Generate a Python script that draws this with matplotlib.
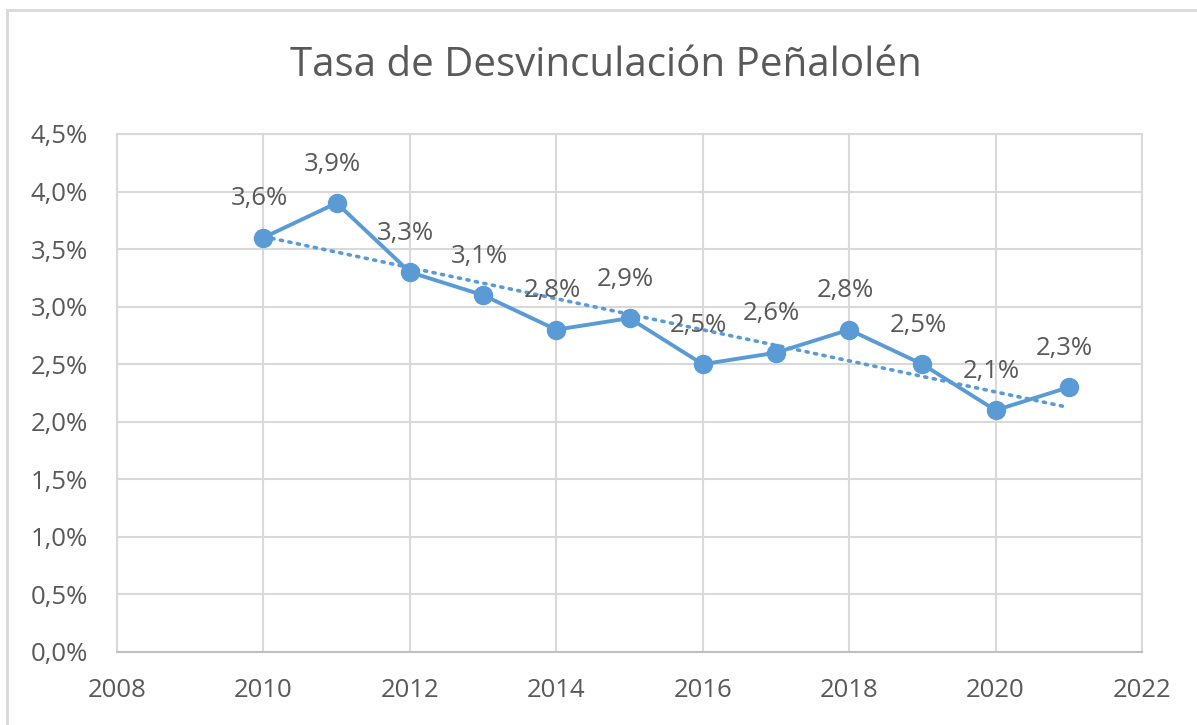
import numpy as np
import matplotlib.pyplot as plt
from matplotlib.patches import Rectangle
from matplotlib.ticker import FuncFormatter, MultipleLocator

years = [2010, 2011, 2012, 2013, 2014, 2015, 2016, 2017, 2018, 2019, 2020, 2021]
tasa = [3.6, 3.9, 3.3, 3.1, 2.8, 2.9, 2.5, 2.6, 2.8, 2.5, 2.1, 2.3]
title = 'Tasa de Desvinculación Peñalolén'

plt.rcParams['font.family'] = ['Open Sans', 'DejaVu Sans']
blue = '#5B9BD5'
grid_c = '#D9D9D9'
text_c = '#595959'

fig = plt.figure(figsize=(11.97, 7.25), dpi=100)
# outer chart frame (runs off the right and bottom edges)
fig.patches.append(Rectangle((7 / 1197, -0.05), 1.1, 1.05 - 10 / 725,
                             transform=fig.transFigure, fill=False,
                             edgecolor=grid_c, lw=2))
ax = fig.add_axes([117 / 1197, 1 - 652 / 725, 1025 / 1197, 518 / 725])

ax.plot(years, tasa, color=blue, lw=2.8, marker='o', ms=13, zorder=3)

# linear trend line
m, b = np.polyfit(years, tasa, 1)
xt = np.array([years[0], years[-1]])
ax.plot(xt, m * xt + b, color=blue, lw=2.6, ls=(0, (0.6, 1.8)),
        dash_capstyle='round', zorder=2)

for x, y in zip(years, tasa):
    ax.annotate(f'{y:.1f}%'.replace('.', ','), (x, y), xytext=(-3, 19),
                textcoords='offset points', ha='center', va='bottom',
                fontsize=18.5, color=text_c, zorder=4)

ax.set_xlim(2008, 2022)
ax.set_ylim(0, 4.5)
ax.xaxis.set_major_locator(MultipleLocator(2))
ax.yaxis.set_major_locator(MultipleLocator(0.5))
ax.yaxis.set_major_formatter(FuncFormatter(lambda v, p: f'{v:.1f}%'.replace('.', ',')))
ax.grid(True, color=grid_c, lw=1.5)
ax.set_axisbelow(True)
for s in ['top', 'right', 'left']:
    ax.spines[s].set_color(grid_c)
    ax.spines[s].set_linewidth(1.5)
ax.spines['bottom'].set_color('#BFBFBF')
ax.spines['bottom'].set_linewidth(1.5)
ax.tick_params(length=0, labelsize=18.5, labelcolor=text_c)
ax.tick_params(axis='x', pad=19)
ax.tick_params(axis='y', pad=21)

fig.suptitle(title, x=606 / 1197, y=1 - 66 / 725, va='center',
             fontsize=29, color=text_c)

fig.savefig('out.png', dpi=100)
